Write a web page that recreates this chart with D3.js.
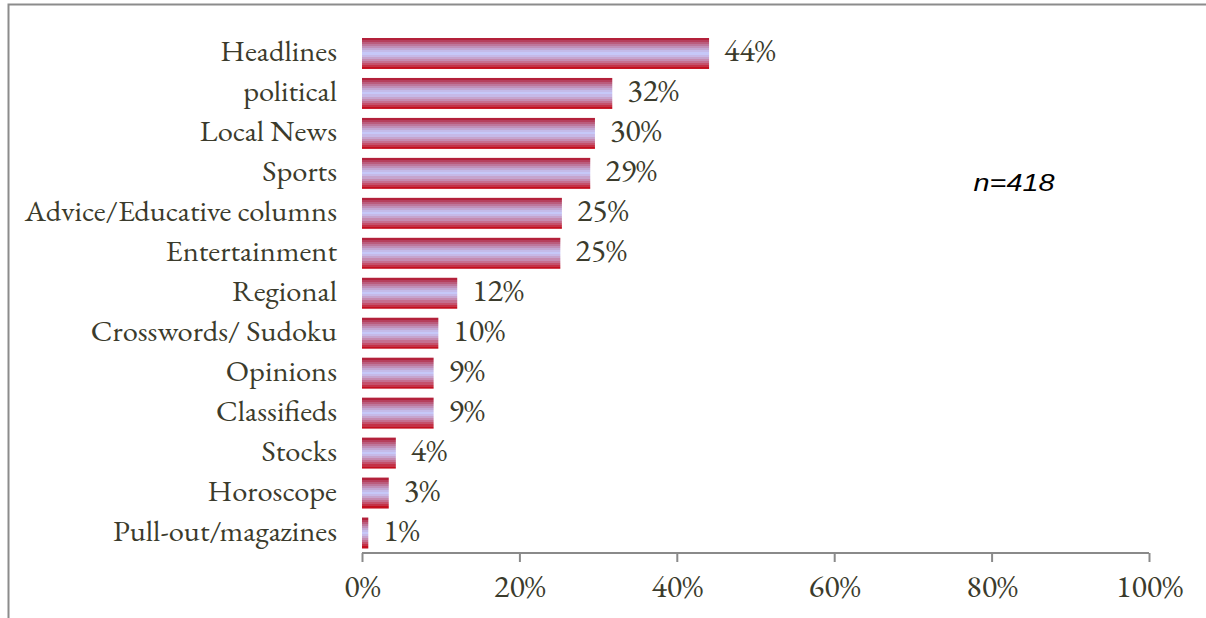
<!DOCTYPE html>
<html>
<head>
<meta charset="utf-8">
<script src="https://cdn.jsdelivr.net/npm/d3@7"></script>
<style>
  html, body { margin: 0; padding: 0; background: #fff; }
  svg { display: block; }
</style>
</head>
<body>
<svg id="chart" width="1206" height="618"></svg>
<script>
// Sections of the newspaper read regularly (share of respondents)
const categories = [
  "Headlines", "political", "Local News", "Sports", "Advice/Educative columns",
  "Entertainment", "Regional", "Crosswords/ Sudoku", "Opinions", "Classifieds",
  "Stocks", "Horoscope", "Pull-out/magazines"
];
const shares = [44.1, 31.8, 29.6, 29.0, 25.4, 25.2, 12.1, 9.7, 9.1, 9.1, 4.3, 3.4, 0.8];
const tickValues = [0, 20, 40, 60, 80, 100];
const sampleNote = "n=418";

const svg = d3.select("#chart");
const W = 1206, H = 618;
const margin = { left: 362, right: 57, top: 33.5, bottom: 65 };
const textColor = "#3b3b2c";
const serif = "'EB Garamond', Garamond, 'Liberation Serif', 'DejaVu Serif', serif";
const stretch = 1.07;       // wide serif face
const labelSize = 28.5, numberSize = 30;

// Replace x/y on each text with a translate + horizontal stretch about its anchor.
function stretchText(sel, s) {
  sel.each(function () {
    const t = d3.select(this);
    const tx = +t.attr("x") || 0, ty = +t.attr("y") || 0;
    t.attr("x", 0).attr("y", 0)
     .attr("transform", `translate(${tx},${ty}) scale(${s},1)`);
  });
}

// frame around the chart area
svg.append("path")
  .attr("d", `M8.5,${H} V4.5 H${W}`)
  .attr("fill", "none")
  .attr("stroke", "#8c8c8c")
  .attr("stroke-width", 2);

const x = d3.scaleLinear().domain([0, 100]).range([margin.left, W - margin.right]);
const y = d3.scaleBand().domain(categories)
  .range([margin.top, H - margin.bottom])
  .paddingInner(0.225).paddingOuter(0.1125);

// striped vertical gradient: red edges fading to lavender centre
const defs = svg.append("defs");
const grad = defs.append("linearGradient").attr("id", "barFill")
  .attr("x1", 0).attr("y1", 0).attr("x2", 0).attr("y2", 1);
const edgeTop = d3.rgb("#b3203a"), edgeBot = d3.rgb("#c40f1e"), mid = d3.rgb("#c6c8f8");
const bands = 15;
for (let i = 0; i < bands; i++) {
  const t = i / (bands - 1);
  const dist = Math.abs(t - 0.5) * 2;              // 0 at centre, 1 at edges
  const edge = t < 0.5 ? edgeTop : edgeBot;
  const c = d3.interpolateRgb(mid, edge)(Math.pow(dist, 1.3));
  grad.append("stop").attr("offset", i / bands).attr("stop-color", c);
  grad.append("stop").attr("offset", (i + 1) / bands).attr("stop-color", c);
}

// bars
svg.append("g").selectAll("rect")
  .data(categories)
  .join("rect")
  .attr("x", x(0))
  .attr("y", d => y(d))
  .attr("width", (d, i) => x(shares[i]) - x(0))
  .attr("height", y.bandwidth())
  .attr("fill", "url(#barFill)");

// value labels
svg.append("g").selectAll("text")
  .data(categories)
  .join("text")
  .attr("x", (d, i) => x(shares[i]) + 15)
  .attr("y", d => y(d) + y.bandwidth() / 2 + 8)
  .attr("font-family", serif)
  .attr("font-size", numberSize)
  .attr("fill", textColor)
  .text((d, i) => Math.round(shares[i]) + "%")
  .call(stretchText, stretch);

// category labels
const yAxis = d3.axisLeft(y).tickSize(0).tickPadding(25);
const gy = svg.append("g").attr("transform", `translate(${x(0)},0)`).call(yAxis);
gy.select(".domain").remove();
gy.selectAll("text")
  .attr("font-family", serif)
  .attr("font-size", labelSize)
  .attr("fill", textColor)
  .attr("dy", null)
  .attr("y", 7.5)
  .call(stretchText, stretch);

// percentage axis
const axisY = H - margin.bottom;
const xAxis = d3.axisBottom(x).tickValues(tickValues).tickFormat(d => d + "%")
  .tickSize(9).tickSizeOuter(0);
const gx = svg.append("g").attr("transform", `translate(0,${axisY})`).call(xAxis);
gx.select(".domain").attr("stroke", "#8a8a8a").attr("stroke-width", 2)
  .attr("d", `M${x(0)},0H${x(100)}`);
gx.selectAll(".tick line").attr("stroke", "#8a8a8a").attr("stroke-width", 2)
  .attr("y1", 0).attr("y2", 9);
gx.selectAll(".tick text")
  .attr("font-family", serif)
  .attr("font-size", numberSize)
  .attr("fill", textColor)
  .attr("dy", null)
  .attr("y", 44)
  .call(stretchText, stretch);

// sample size note
svg.append("text")
  .attr("x", 1014)
  .attr("y", 191)
  .attr("text-anchor", "middle")
  .attr("font-family", "'Liberation Sans', Arial, sans-serif")
  .attr("font-style", "italic")
  .attr("font-size", 24)
  .attr("fill", "#000")
  .text(sampleNote)
  .call(stretchText, 1.2);
</script>
</body>
</html>
